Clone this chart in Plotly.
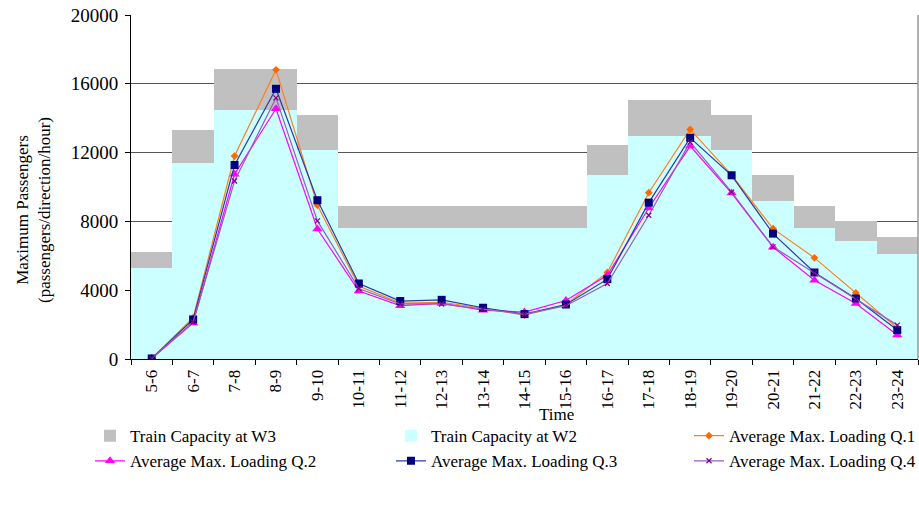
import plotly.graph_objects as go

# Hourly time bands
time_bands = ["5-6", "6-7", "7-8", "8-9", "9-10", "10-11", "11-12", "12-13", "13-14",
              "14-15", "15-16", "16-17", "17-18", "18-19", "19-20", "20-21", "21-22",
              "22-23", "23-24"]

# Train capacity (passengers/direction/hour)
capacity_w3 = [6200, 13300, 16850, 16850, 14200, 8880, 8880, 8880, 8880, 8880, 8880,
               12420, 15070, 15070, 14200, 10680, 8880, 8010, 7120]
capacity_w2 = [5320, 11420, 14470, 14470, 12160, 7620, 7620, 7620, 7620, 7620, 7620,
               10680, 12940, 12940, 12160, 9170, 7620, 6870, 6130]

# Average maximum loading per quarter
loading_q1 = [30, 2400, 11800, 16810, 8940, 4240, 3250, 3300, 2950, 2550, 3150,
              5030, 9670, 13350, 10700, 7580, 5880, 3850, 1800]
loading_q2 = [30, 2100, 10740, 14550, 7560, 3950, 3100, 3230, 2840, 2730, 3400,
              4870, 8780, 12380, 9650, 6500, 4580, 3230, 1390]
loading_q3 = [30, 2300, 11280, 15710, 9230, 4390, 3370, 3440, 2980, 2610, 3170,
              4640, 9090, 12860, 10680, 7290, 5030, 3520, 1680]
loading_q4 = [30, 2150, 10350, 15180, 8030, 4100, 3200, 3200, 2900, 2600, 3100,
              4390, 8360, 12610, 9700, 6520, 5000, 3500, 1970]

serif = "Liberation Serif"

fig = go.Figure()

# Capacity bars: W3 drawn full height, W2 overlaid in front
fig.add_trace(go.Bar(x=time_bands, y=capacity_w3, name="Train Capacity at W3",
                     legend="legend",
                     marker=dict(color="#C0C0C0", line=dict(width=0))))
fig.add_trace(go.Bar(x=time_bands, y=capacity_w2, name="Train Capacity at W2",
                     legend="legend2",
                     marker=dict(color="#CCFFFF", line=dict(width=0))))

fig.add_trace(go.Scatter(x=time_bands, y=loading_q1, name="Average Max. Loading Q.1",
                         mode="lines+markers", legend="legend3",
                         line=dict(color="#FF7F1E", width=1.2),
                         marker=dict(symbol="diamond", size=6, color="#FF6A00")))
fig.add_trace(go.Scatter(x=time_bands, y=loading_q2, name="Average Max. Loading Q.2",
                         mode="lines+markers", legend="legend",
                         line=dict(color="#FF00FF", width=1.2),
                         marker=dict(symbol="triangle-up", size=9, color="#FF00FF")))
fig.add_trace(go.Scatter(x=time_bands, y=loading_q3, name="Average Max. Loading Q.3",
                         mode="lines+markers", legend="legend2",
                         line=dict(color="#2B3AA8", width=1.2),
                         marker=dict(symbol="square", size=8, color="#000080")))
fig.add_trace(go.Scatter(x=time_bands, y=loading_q4, name="Average Max. Loading Q.4",
                         mode="lines+markers", legend="legend3",
                         line=dict(color="#9A5CC0", width=1.2),
                         marker=dict(symbol="x-thin", size=5,
                                     line=dict(color="#800080", width=1.2))))

legend_style = dict(orientation="v", xref="container", yref="container",
                    xanchor="left", yanchor="top", y=0.172,
                    bgcolor="rgba(0,0,0,0)", borderwidth=0,
                    font=dict(family=serif, size=17, color="black"),
                    tracegroupgap=0, itemsizing="trace")

fig.update_layout(
    width=919, height=505,
    margin=dict(l=131, r=1, t=15, b=146, autoexpand=False),
    paper_bgcolor="white", plot_bgcolor="white",
    font=dict(family=serif, size=17, color="black"),
    barmode="overlay", bargap=0,
    showlegend=True,
    legend=dict(legend_style, x=90 / 919),
    legend2=dict(legend_style, x=391 / 919),
    legend3=dict(legend_style, x=689 / 919),
)

fig.update_xaxes(
    type="category", range=[-0.5, len(time_bands) - 0.5],
    tickangle=-90, tickson="boundaries",
    ticks="outside", ticklen=5, tickcolor="black",
    showline=True, linecolor="black", linewidth=1,
    showgrid=False, ticklabelstandoff=3,
    tickfont=dict(family=serif, size=17),
)
fig.update_yaxes(
    range=[0, 20000], tickvals=[0, 4000, 8000, 12000, 16000, 20000],
    tickformat="d",
    ticks="outside", ticklen=5, tickcolor="black",
    showline=True, linecolor="black", linewidth=1,
    showgrid=True, gridcolor="#555555", gridwidth=1,
    zeroline=False, ticklabelstandoff=3,
    tickfont=dict(family=serif, size=19),
)

# X-axis title
fig.add_annotation(text="Time", xref="paper", yref="paper",
                   x=(556 - 131) / 787, y=-(414 - 359) / 344,
                   xanchor="center", yanchor="middle",
                   showarrow=False, font=dict(family=serif, size=17, color="black"))

# Two-line y-axis title
fig.add_annotation(text="Maximum Passengers<br>(passengers/direction/hour)",
                   xref="paper", yref="paper", x=(33 - 131) / 787, y=(359 - 210) / 344,
                   xanchor="center", yanchor="middle", textangle=-90, showarrow=False,
                   font=dict(family=serif, size=17, color="black"))

# Plot-area frame on the right side
fig.add_shape(type="line", xref="paper", yref="paper", x0=1, x1=1, y0=0, y1=1,
              line=dict(color="#999999", width=1.5))

fig.write_html("out.html")
